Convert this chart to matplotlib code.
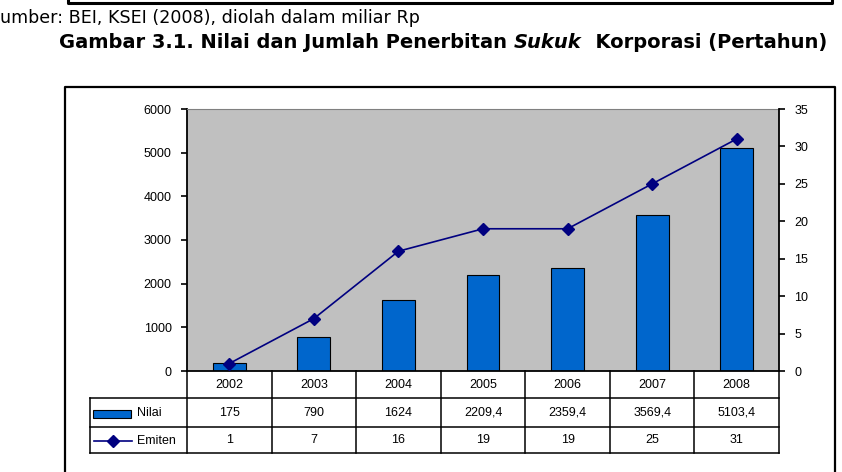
import matplotlib.pyplot as plt
import matplotlib.transforms as mtransforms
from matplotlib.lines import Line2D
from matplotlib.patches import Rectangle

tahun = ['2002', '2003', '2004', '2005', '2006', '2007', '2008']
nilai = [175, 790, 1624, 2209.4, 2359.4, 3569.4, 5103.4]
nilai_label = ['175', '790', '1624', '2209,4', '2359,4', '3569,4', '5103,4']
emiten = [1, 7, 16, 19, 19, 25, 31]

W, H = 842, 472
plt.rcParams['font.family'] = ['Liberation Sans', 'DejaVu Sans']

fig = plt.figure(figsize=(W / 100, H / 100), dpi=100)


def fx(x):
    return x / W


def fy(y):
    return 1 - y / H


# area plot (pixel)
L, R, T, B = 187, 779, 109, 371
ax = fig.add_axes([fx(L), fy(B), fx(R) - fx(L), fy(T) - fy(B)])
ax.set_facecolor('#C0C0C0')
x = list(range(len(tahun)))
ax.bar(x, nilai, width=0.39, color='#0066CC', edgecolor='black', linewidth=0.8, zorder=2)
ax.set_xlim(-0.5, len(tahun) - 0.5)
ax.set_ylim(0, 6000)
ax.set_yticks(range(0, 6001, 1000))
ax.set_xticks([])
ax.tick_params(axis='y', direction='out', length=4, width=1.2, labelsize=9, pad=7)
ax.spines['top'].set_color('#808080')
ax.spines['right'].set_visible(False)
ax.spines['left'].set_linewidth(1.3)
ax.spines['bottom'].set_linewidth(1.3)

ax2 = ax.twinx()
ax2.plot(x, emiten, color='#000080', linewidth=1.2, marker='D', markersize=6.5, zorder=3)
ax2.set_ylim(0, 35)
ax2.set_yticks(range(0, 36, 5))
ax2.tick_params(axis='y', direction='out', length=4, width=1.2, labelsize=9, pad=7)
for s in ['top', 'left', 'bottom']:
    ax2.spines[s].set_visible(False)
ax2.spines['right'].set_linewidth(1.3)

# tabel data di bawah grafik
tr = mtransforms.blended_transform_factory(ax.transData, fig.transFigure)
rows = [371, 398, 427, 453]
lw = 1.1
for i in range(len(tahun) + 1):
    xb = i - 0.5
    fig.add_artist(Line2D([xb, xb], [fy(rows[0]), fy(rows[3])], transform=tr, color='black', lw=lw))
for y in rows[1:]:
    fig.add_artist(Line2D([fx(90), fx(R)], [fy(y), fy(y)], color='black', lw=lw))
fig.add_artist(Line2D([fx(90), fx(90)], [fy(rows[1]), fy(rows[3])], color='black', lw=lw))

for i in range(len(tahun)):
    fig.text(i, fy((rows[0] + rows[1]) / 2), tahun[i], transform=tr, ha='center', va='center', fontsize=9)
    fig.text(i, fy((rows[1] + rows[2]) / 2), nilai_label[i], transform=tr, ha='center', va='center', fontsize=9)
    fig.text(i, fy((rows[2] + rows[3]) / 2), str(emiten[i]), transform=tr, ha='center', va='center', fontsize=9)

# legenda di kolom kiri tabel
fig.add_artist(Rectangle((fx(93), fy(418)), fx(131) - fx(93), fy(410) - fy(418),
                         facecolor='#0066CC', edgecolor='black', lw=0.8))
fig.text(fx(137), fy(413), 'Nilai', ha='left', va='center', fontsize=9)
fig.add_artist(Line2D([fx(94), fx(132)], [fy(441), fy(441)], color='#000080', lw=1.2))
fig.add_artist(Line2D([fx(113)], [fy(441)], color='#000080', marker='D', markersize=6.5))
fig.text(fx(137), fy(441), 'Emiten', ha='left', va='center', fontsize=9)

# bingkai grafik
fig.add_artist(Line2D([fx(65), fx(65), fx(835), fx(835)], [fy(480), fy(87), fy(87), fy(480)],
                      color='black', lw=1.6))
# bingkai kotak di atas
fig.add_artist(Line2D([fx(68), fx(68), fx(832), fx(832)], [fy(-2), fy(3), fy(3), fy(-2)],
                      color='black', lw=2.2))

fig.text(fx(0), fy(23), 'umber: BEI, KSEI (2008), diolah dalam miliar Rp', family='DejaVu Sans',
         fontsize=12.6, ha='left', va='baseline')

# judul dengan kata Sukuk miring
renderer = fig.canvas.get_renderer()
parts = [('Gambar 3.1. Nilai dan Jumlah Penerbitan ', 'normal'), ('Sukuk', 'italic'),
         ('  Korporasi (Pertahun)', 'normal')]
xpos = fx(59)
for txt, style in parts:
    t = fig.text(xpos, fy(48), txt, family='DejaVu Sans', fontsize=14, fontweight='bold',
                 style=style, ha='left', va='baseline')
    bb = t.get_window_extent(renderer)
    xpos = xpos + bb.width / W

fig.savefig('out.png', dpi=100)
